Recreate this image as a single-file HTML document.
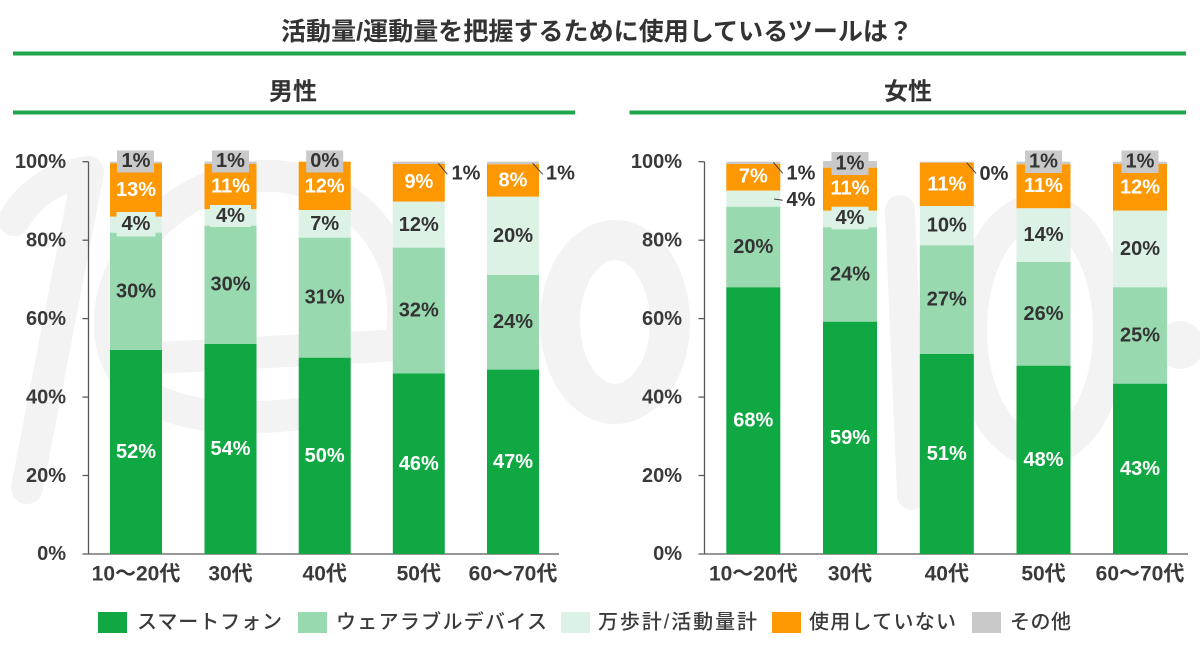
<!DOCTYPE html>
<html><head><meta charset="utf-8">
<style>
html,body{margin:0;padding:0;background:#fff;}
svg{display:block;}
text{font-family:"Liberation Sans","Noto Sans CJK JP",sans-serif;}
.t{font-size:20px;font-weight:bold;text-anchor:middle;dominant-baseline:central;}
.d{fill:#333;}
.w{fill:#fff;}
.ax{font-size:20px;font-weight:bold;fill:#3a3a3a;text-anchor:end;dominant-baseline:central;}
.xl{font-size:21px;font-weight:bold;fill:#3a3a3a;text-anchor:middle;dominant-baseline:central;}
.lg{font-size:20px;font-weight:500;fill:#3a3a3a;dominant-baseline:central;}
</style></head>
<body>
<svg width="1200" height="649" viewBox="0 0 1200 649" xmlns="http://www.w3.org/2000/svg">
<rect width="1200" height="649" fill="#fff"/>
<!-- watermark (faint) -->
<g fill="none" stroke="#f3f3f3" stroke-width="32" stroke-linecap="round" stroke-linejoin="round">
  <path d="M14,220 C32,190 60,175 88,172 L27,488"/>
  <path d="M120,360 L400,345 C420,240 340,172 260,176 C170,182 105,262 110,330 C115,410 200,430 330,410"/>
  <ellipse cx="615" cy="322" rx="55" ry="82" stroke-width="40"/>
  <path d="M900,210 L912,495" stroke-width="30"/>
  <ellipse cx="1040" cy="330" rx="70" ry="120" stroke-width="34"/>
</g>
<circle cx="1180" cy="345" r="24" fill="#f3f3f3"/>

<!-- title -->
<text x="281" y="32" font-size="25" font-weight="bold" fill="#333" dominant-baseline="central" textLength="632" lengthAdjust="spacing">活動量/運動量を把握するために使用しているツールは？</text>
<rect x="13" y="51.5" width="1173" height="4" fill="#1fa64a"/>
<text x="293" y="92" font-size="24" font-weight="bold" fill="#333" text-anchor="middle" dominant-baseline="central">男性</text>
<rect x="13" y="110.5" width="562" height="4" fill="#1fa64a"/>
<text x="908" y="92" font-size="24" font-weight="bold" fill="#333" text-anchor="middle" dominant-baseline="central">女性</text>
<rect x="629.5" y="110.5" width="556.5" height="4" fill="#1fa64a"/>

<!-- MALE axes -->
<g stroke="#595959" stroke-width="1.3">
  <line x1="88.5" y1="161.7" x2="88.5" y2="554"/>
  <line x1="82.5" y1="554" x2="559" y2="554"/>
  <line x1="82.5" y1="161.7" x2="88.5" y2="161.7"/>
  <line x1="82.5" y1="240.2" x2="88.5" y2="240.2"/>
  <line x1="82.5" y1="318.6" x2="88.5" y2="318.6"/>
  <line x1="82.5" y1="397.1" x2="88.5" y2="397.1"/>
  <line x1="82.5" y1="475.5" x2="88.5" y2="475.5"/>
</g>
<text class="ax" x="66" y="162">100%</text>
<text class="ax" x="66" y="240.5">80%</text>
<text class="ax" x="66" y="319">60%</text>
<text class="ax" x="66" y="397.5">40%</text>
<text class="ax" x="66" y="476">20%</text>
<text class="ax" x="66" y="554">0%</text>

<!-- FEMALE axes -->
<g stroke="#595959" stroke-width="1.3">
  <line x1="704.5" y1="161.7" x2="704.5" y2="554"/>
  <line x1="698.5" y1="554" x2="1188" y2="554"/>
  <line x1="698.5" y1="161.7" x2="704.5" y2="161.7"/>
  <line x1="698.5" y1="240.2" x2="704.5" y2="240.2"/>
  <line x1="698.5" y1="318.6" x2="704.5" y2="318.6"/>
  <line x1="698.5" y1="397.1" x2="704.5" y2="397.1"/>
  <line x1="698.5" y1="475.5" x2="704.5" y2="475.5"/>
</g>
<text class="ax" x="682" y="162">100%</text>
<text class="ax" x="682" y="240.5">80%</text>
<text class="ax" x="682" y="319">60%</text>
<text class="ax" x="682" y="397.5">40%</text>
<text class="ax" x="682" y="476">20%</text>
<text class="ax" x="682" y="554">0%</text>

<!-- MALE bars -->
<g>
  <rect x="110" y="161.7" width="52" height="1.6" fill="#c9c9c9"/>
  <rect x="110" y="163.3" width="52" height="53.4" fill="#fd9702"/>
  <rect x="110" y="216.7" width="52" height="16" fill="#dcf2e4"/>
  <rect x="110" y="232.7" width="52" height="117.3" fill="#99d9b0"/>
  <rect x="110" y="350" width="52" height="204" fill="#10a843"/>

  <rect x="204.5" y="161.7" width="52" height="2.3" fill="#c9c9c9"/>
  <rect x="204.5" y="164" width="52" height="45.3" fill="#fd9702"/>
  <rect x="204.5" y="209.3" width="52" height="16.4" fill="#dcf2e4"/>
  <rect x="204.5" y="225.7" width="52" height="118.3" fill="#99d9b0"/>
  <rect x="204.5" y="344" width="52" height="210" fill="#10a843"/>

  <rect x="298.7" y="161.7" width="52" height="48.3" fill="#fd9702"/>
  <rect x="298.7" y="210" width="52" height="27.7" fill="#dcf2e4"/>
  <rect x="298.7" y="237.7" width="52" height="120" fill="#99d9b0"/>
  <rect x="298.7" y="357.7" width="52" height="196.3" fill="#10a843"/>

  <rect x="392.8" y="161.7" width="52" height="2.3" fill="#c9c9c9"/>
  <rect x="392.8" y="164" width="52" height="37.7" fill="#fd9702"/>
  <rect x="392.8" y="201.7" width="52" height="46" fill="#dcf2e4"/>
  <rect x="392.8" y="247.7" width="52" height="125.8" fill="#99d9b0"/>
  <rect x="392.8" y="373.5" width="52" height="180.5" fill="#10a843"/>

  <rect x="487" y="161.7" width="52" height="2.6" fill="#c9c9c9"/>
  <rect x="487" y="164.3" width="52" height="32.4" fill="#fd9702"/>
  <rect x="487" y="196.7" width="52" height="78.3" fill="#dcf2e4"/>
  <rect x="487" y="275" width="52" height="94.6" fill="#99d9b0"/>
  <rect x="487" y="369.6" width="52" height="184.4" fill="#10a843"/>
</g>

<!-- FEMALE bars -->
<g>
  <rect x="726.3" y="161.7" width="54" height="2.3" fill="#c9c9c9"/>
  <rect x="726.3" y="164" width="54" height="26.7" fill="#fd9702"/>
  <rect x="726.3" y="190.7" width="54" height="16" fill="#dcf2e4"/>
  <rect x="726.3" y="206.7" width="54" height="80.6" fill="#99d9b0"/>
  <rect x="726.3" y="287.3" width="54" height="266.7" fill="#10a843"/>

  <rect x="823" y="161" width="54" height="6.7" fill="#c9c9c9"/>
  <rect x="823" y="167.7" width="54" height="43" fill="#fd9702"/>
  <rect x="823" y="210.7" width="54" height="16.6" fill="#dcf2e4"/>
  <rect x="823" y="227.3" width="54" height="94.4" fill="#99d9b0"/>
  <rect x="823" y="321.7" width="54" height="232.3" fill="#10a843"/>

  <rect x="919.8" y="161.7" width="54" height="1" fill="#c9c9c9"/>
  <rect x="919.8" y="162.7" width="54" height="43.3" fill="#fd9702"/>
  <rect x="919.8" y="206" width="54" height="39.3" fill="#dcf2e4"/>
  <rect x="919.8" y="245.3" width="54" height="108.7" fill="#99d9b0"/>
  <rect x="919.8" y="354" width="54" height="200" fill="#10a843"/>

  <rect x="1016.5" y="161.7" width="54" height="2.6" fill="#c9c9c9"/>
  <rect x="1016.5" y="164.3" width="54" height="44" fill="#fd9702"/>
  <rect x="1016.5" y="208.3" width="54" height="53.7" fill="#dcf2e4"/>
  <rect x="1016.5" y="262" width="54" height="103.7" fill="#99d9b0"/>
  <rect x="1016.5" y="365.7" width="54" height="188.3" fill="#10a843"/>

  <rect x="1113" y="161.7" width="54" height="2.3" fill="#c9c9c9"/>
  <rect x="1113" y="164" width="54" height="46.7" fill="#fd9702"/>
  <rect x="1113" y="210.7" width="54" height="76.6" fill="#dcf2e4"/>
  <rect x="1113" y="287.3" width="54" height="96.4" fill="#99d9b0"/>
  <rect x="1113" y="383.7" width="54" height="170.3" fill="#10a843"/>
</g>

<!-- label boxes -->
<g>
  <rect x="117" y="150.5" width="37" height="22" fill="#c9c9c9"/>
  <rect x="212" y="150.5" width="37" height="22" fill="#c9c9c9"/>
  <rect x="306.2" y="150.5" width="37" height="22" fill="#c9c9c9"/>
  <rect x="831.5" y="152" width="37" height="23" fill="#c9c9c9"/>
  <rect x="1025" y="150.5" width="37" height="22.5" fill="#c9c9c9"/>
  <rect x="1121.5" y="150.5" width="37" height="22.5" fill="#c9c9c9"/>
  <rect x="116.5" y="212" width="39" height="24.5" fill="#dcf2e4"/>
  <rect x="210" y="205" width="41" height="22" fill="#dcf2e4"/>
  <rect x="831.5" y="206.7" width="37" height="22.6" fill="#dcf2e4"/>
</g>

<!-- leader lines -->
<g stroke="#404040" stroke-width="1">
  <line x1="438.3" y1="163.3" x2="447.3" y2="174.3"/>
  <line x1="532.7" y1="163.3" x2="542.7" y2="174.3"/>
  <line x1="773.3" y1="162.3" x2="782.7" y2="173.3"/>
  <line x1="774" y1="199" x2="782.7" y2="200.3"/>
  <line x1="966.7" y1="162.7" x2="976" y2="173.3"/>
</g>

<!-- MALE value labels -->
<text class="t d" x="136" y="161">1%</text>
<text class="t w" x="136" y="190">13%</text>
<text class="t d" x="136" y="224">4%</text>
<text class="t d" x="136" y="291.5">30%</text>
<text class="t w" x="136" y="452">52%</text>

<text class="t d" x="230.5" y="161">1%</text>
<text class="t w" x="230.5" y="186.7">11%</text>
<text class="t d" x="230.5" y="216">4%</text>
<text class="t d" x="230.5" y="284.5">30%</text>
<text class="t w" x="230.5" y="449">54%</text>

<text class="t d" x="324.7" y="161">0%</text>
<text class="t w" x="324.7" y="186.7">12%</text>
<text class="t d" x="324.7" y="224">7%</text>
<text class="t d" x="324.7" y="297.5">31%</text>
<text class="t w" x="324.7" y="456">50%</text>

<text class="t w" x="418.8" y="182">9%</text>
<text class="t d" x="418.8" y="225">12%</text>
<text class="t d" x="418.8" y="310.5">32%</text>
<text class="t w" x="418.8" y="463.8">46%</text>
<text class="t d" x="466" y="173.5">1%</text>

<text class="t w" x="513" y="180.5">8%</text>
<text class="t d" x="513" y="236">20%</text>
<text class="t d" x="513" y="322">24%</text>
<text class="t w" x="513" y="462">47%</text>
<text class="t d" x="560.5" y="173.5">1%</text>

<!-- FEMALE value labels -->
<text class="t w" x="753.3" y="176.5">7%</text>
<text class="t d" x="753.3" y="247">20%</text>
<text class="t w" x="753.3" y="420.6">68%</text>
<text class="t d" x="801" y="173.5">1%</text>
<text class="t d" x="801" y="200">4%</text>

<text class="t d" x="850" y="163.3">1%</text>
<text class="t w" x="850" y="188.3">11%</text>
<text class="t d" x="850" y="218">4%</text>
<text class="t d" x="850" y="274.5">24%</text>
<text class="t w" x="850" y="438">59%</text>

<text class="t w" x="946.8" y="184.3">11%</text>
<text class="t d" x="946.8" y="225.7">10%</text>
<text class="t d" x="946.8" y="299.7">27%</text>
<text class="t w" x="946.8" y="454">51%</text>
<text class="t d" x="994" y="174">0%</text>

<text class="t d" x="1043.5" y="161.7">1%</text>
<text class="t w" x="1043.5" y="186">11%</text>
<text class="t d" x="1043.5" y="235">14%</text>
<text class="t d" x="1043.5" y="313.8">26%</text>
<text class="t w" x="1043.5" y="460">48%</text>

<text class="t d" x="1140" y="161.7">1%</text>
<text class="t w" x="1140" y="187.5">12%</text>
<text class="t d" x="1140" y="249">20%</text>
<text class="t d" x="1140" y="335.6">25%</text>
<text class="t w" x="1140" y="469">43%</text>

<!-- x labels -->
<text class="xl" x="136" y="574">10～20代</text>
<text class="xl" x="230.5" y="574">30代</text>
<text class="xl" x="324.7" y="574">40代</text>
<text class="xl" x="418.8" y="574">50代</text>
<text class="xl" x="513" y="574">60～70代</text>
<text class="xl" x="753.3" y="574">10～20代</text>
<text class="xl" x="850" y="574">30代</text>
<text class="xl" x="946.8" y="574">40代</text>
<text class="xl" x="1043.5" y="574">50代</text>
<text class="xl" x="1140" y="574">60～70代</text>

<!-- legend -->
<rect x="98" y="612" width="29" height="21" fill="#10a843"/>
<text class="lg" x="137" y="622.5" textLength="145" lengthAdjust="spacing">スマートフォン</text>
<rect x="298" y="612" width="29" height="21" fill="#99d9b0"/>
<text class="lg" x="336" y="622.5" textLength="211" lengthAdjust="spacing">ウェアラブルデバイス</text>
<rect x="561" y="612" width="29" height="21" fill="#dcf2e4"/>
<text class="lg" x="598" y="622.5" textLength="159" lengthAdjust="spacing">万歩計/活動量計</text>
<rect x="772" y="612" width="29" height="21" fill="#fd9702"/>
<text class="lg" x="809" y="622.5" textLength="147" lengthAdjust="spacing">使用していない</text>
<rect x="972" y="612" width="29" height="21" fill="#c9c9c9"/>
<text class="lg" x="1010" y="622.5" textLength="61" lengthAdjust="spacing">その他</text>
</svg>
</body></html>
